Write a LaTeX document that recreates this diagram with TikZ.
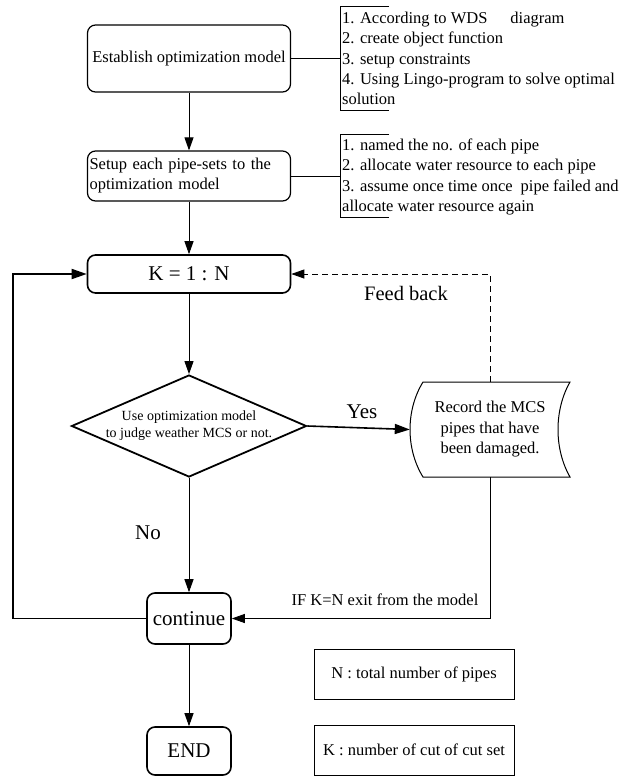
\documentclass[tikz,border=0pt]{standalone}
\usepackage{fontspec}
\setmainfont{Liberation Serif}
\usetikzlibrary{arrows.meta,shapes.geometric}
\begin{document}
\begin{tikzpicture}[x=1pt,y=-1pt,
  rbox/.style={draw, rounded corners=8pt, line width=1.2pt, inner sep=0pt, font=\fontsize{16.5}{20}\selectfont},
  tbox/.style={rbox, line width=1.6pt, font=\fontsize{21}{24}\selectfont},
  note/.style={draw, line width=0.9pt, minimum width=200pt, minimum height=50pt, inner sep=0pt, font=\fontsize{16.5}{20}\selectfont},
  decision/.style={diamond, draw, line width=1.8pt, minimum width=235pt, minimum height=102pt, inner sep=0pt},
  arr/.style={line width=0.9pt, -{Triangle[length=13pt,width=9pt]}},
  tharr/.style={line width=1.8pt, -{Triangle[length=15pt,width=10pt]}},
  thin/.style={line width=0.9pt},
  lbl/.style={font=\fontsize{16.5}{20.25}\selectfont, inner sep=0pt, align=left},
  big/.style={font=\fontsize{21}{24}\selectfont, inner sep=0pt},
]
\useasboundingbox (0,0) rectangle (622,777);

% main flow nodes
\node[rbox, minimum width=203pt, minimum height=67pt] (b1) at (189,58.5) {Establish optimization model};
\node[rbox, text width=199pt, inner xsep=2pt, minimum height=50pt, align=left] (b2) at (189,176) {Setup each pipe-sets to the\\optimization model};
\node[tbox, minimum width=203pt, minimum height=38pt] (k) at (189,274) {K = 1 : N};
\node[decision] (dec) at (189,426) {};
\node[font=\fontsize{14}{17}\selectfont, align=center, inner sep=0pt] (dect) at (dec) {Use optimization model\\to judge weather MCS or not.};
\node[minimum width=160pt, minimum height=95pt, inner sep=0pt, align=center, font=\fontsize{16.5}{20.5}\selectfont] (rec) at (490,429.5) {Record the MCS\\pipes that have\\been damaged.};
\draw[line width=1pt] (423,382) -- (570,382) .. controls (554,410) and (554,449) .. (570,477) -- (423,477) .. controls (405.7,449) and (405.7,410) .. (423,382) -- cycle;
\node[tbox, minimum width=84pt, minimum height=51pt] (cont) at (189,618.5) {continue};
\node[tbox, minimum width=84pt, minimum height=48pt] (end) at (189,751) {END};

% notes
\node[note] (nN) at (414,674) {N : total number of pipes};
\node[note] (nK) at (414,750) {K : number of cut of cut set};

% brackets
\draw[thin] (389,6) -- (340,6) -- (340,110) -- (389,110);
\coordinate (br1) at (340,58.5);
\node[lbl, anchor=west] (t1) at (342,58.5) {1. According to WDS\hspace{23pt}diagram\\2. create object function\\3. setup constraints\\4. Using Lingo-program to solve optimal\\solution};
\draw[thin] (389,134) -- (340,134) -- (340,217) -- (389,217);
\coordinate (br2) at (340,176);
\node[lbl, anchor=west] (t2) at (342,177) {1. named the no. of each pipe\\2. allocate water resource to each pipe\\3. assume once time once\hspace{8pt}pipe failed and\\allocate water resource again};

% connectors
\draw[thin] (b1.east) -- (br1);
\draw[thin] (b2.east) -- (br2);
\draw[arr] (b1) -- (b2);
\draw[arr] (b2) -- (k);
\draw[arr] (k) -- (dec);
\draw[arr] (dec) -- (cont);
\draw[arr] (cont) -- (end);
\draw[tharr, line width=1.6pt] (dec.east) -- (rec.west);
\node[big] (yes) at (362,412) {Yes};
\node[big] (no) at (148,533) {No};
\draw[arr] (rec.south) |- (cont.east);
\node[lbl] (ifk) at (385,600) {IF K=N exit from the model};
\draw[arr, dash pattern=on 6pt off 4pt] (rec.north) |- (k.east);
\node[font=\fontsize{20.5}{24}\selectfont, inner sep=0pt] (fb) at (406,293) {Feed back};
\coordinate (lp) at (13,618.5);
\draw[tharr] (cont.west) -- (lp) |- (k.west);
\end{tikzpicture}
\end{document}
